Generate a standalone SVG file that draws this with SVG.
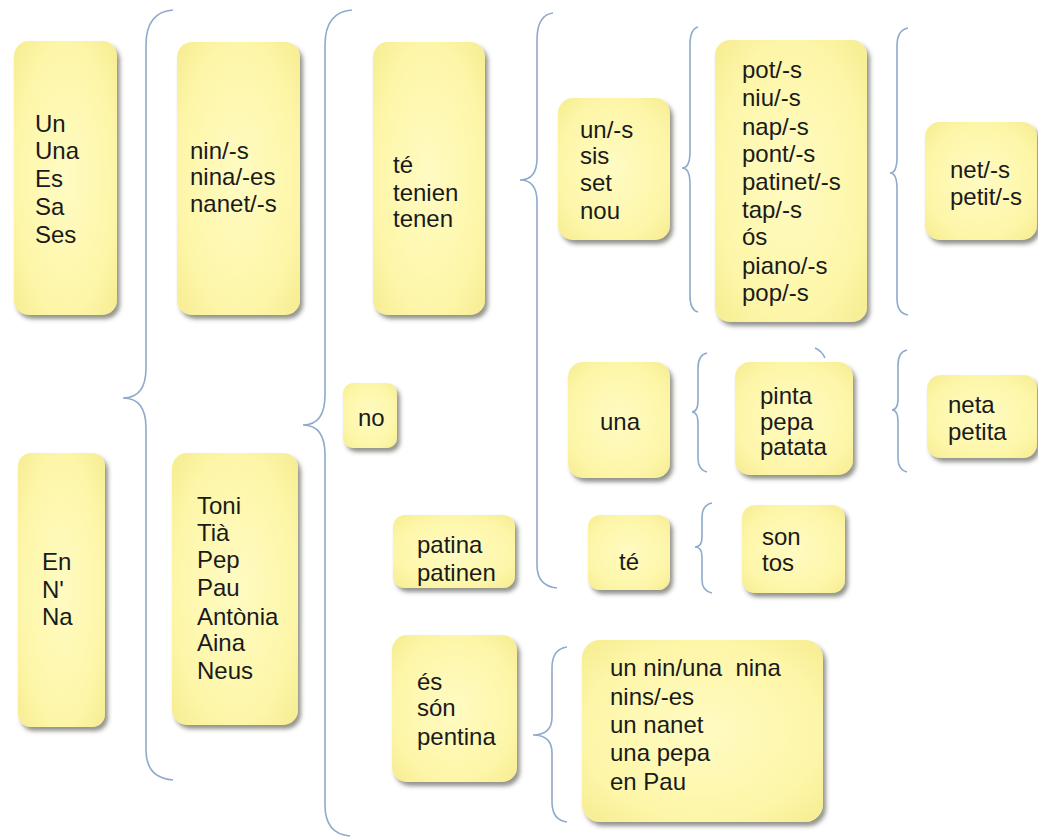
<svg xmlns="http://www.w3.org/2000/svg" width="1038" height="840" viewBox="0 0 1038 840">
<defs>
<radialGradient id="g" cx="50%" cy="50%" r="65%">
<stop offset="0" stop-color="#FFFBC2"/>
<stop offset="0.75" stop-color="#FDF6A8"/>
<stop offset="1" stop-color="#F8EE96"/>
</radialGradient>
<filter id="sh" x="-20%" y="-20%" width="140%" height="140%">
<feDropShadow dx="3" dy="4" stdDeviation="2.2" flood-color="#3a3a30" flood-opacity="0.55"/>
</filter>
</defs>
<style>
.box{fill:url(#g);filter:url(#sh);}
text{font-family:"Liberation Sans",Arial,sans-serif;font-size:24px;fill:#1a1a1a;}
.br{fill:none;stroke:#8FAACB;stroke-width:1.6;}
</style>
<rect width="1038" height="840" fill="#ffffff"/>
<g id="connectors">
<path class="br" d="M173,10 Q146,12 146,45 L146,368 Q146,398 123,398 Q146,398 146,428 L146,750 Q146,778 173,780"/>
<path class="br" d="M352,10 Q325,12 325,45 L325,395 Q325,425 303,425 Q325,425 325,455 L325,805 Q325,834 350,836"/>
<path class="br" d="M553,13 Q537,15 537,40 L537,158 Q537,180 520,180 Q537,180 537,202 L537,565 Q537,586 557,588"/>
<path class="br" d="M698,27 Q690,29 690,45 L690,152 Q690,168 682,168 Q690,168 690,184 L690,296 Q690,310 698,312"/>
<path class="br" d="M908,28 Q897,30 897,46 L897,157 Q897,173 890,173 Q897,173 897,189 L897,299 Q897,313 908,315"/>
<path class="br" d="M707,353 Q698,355 698,368 L698,400 Q698,412 692,412 Q698,412 698,424 L698,458 Q698,470 707,472"/>
<path class="br" d="M907,350 Q898,352 898,365 L898,398 Q898,410 892,410 Q898,410 898,422 L898,458 Q898,470 907,472"/>
<path class="br" d="M712,503 Q702,505 702,517 L702,537 Q702,547 695,547 Q702,547 702,557 L702,580 Q702,591 712,593"/>
<path class="br" d="M567,647 Q552,649 552,668 L552,717 Q552,735 533,735 Q552,735 552,753 L552,802 Q552,820 567,822"/>
<path class="br" d="M815,348 Q822,351 825,358"/>
</g>
<g id="n-un">
<rect class="box" x="14" y="41" width="103" height="274" rx="15"/>
<text x="35" y="132">Un</text><text x="35" y="159">Una</text><text x="35" y="187">Es</text><text x="35" y="215">Sa</text><text x="35" y="243">Ses</text>
</g>
<g id="n-nin">
<rect class="box" x="177" y="42" width="123" height="273" rx="15"/>
<text x="190" y="159">nin/-s</text><text x="190" y="185">nina/-es</text><text x="190" y="212">nanet/-s</text>
</g>
<g id="n-en">
<rect class="box" x="18" y="453" width="87" height="274" rx="13"/>
<text x="42" y="570">En</text><text x="42" y="598">N'</text><text x="42" y="625">Na</text>
</g>
<g id="n-toni">
<rect class="box" x="172" y="453" width="126" height="272" rx="15"/>
<text x="197" y="514">Toni</text><text x="197" y="541">Tià</text><text x="197" y="568">Pep</text><text x="197" y="596">Pau</text><text x="197" y="625">Antònia</text><text x="197" y="651">Aina</text><text x="197" y="679">Neus</text>
</g>
<g id="n-te">
<rect class="box" x="373" y="42" width="112" height="273" rx="15"/>
<text x="393" y="173">té</text><text x="393" y="201">tenien</text><text x="393" y="227">tenen</text>
</g>
<g id="n-no">
<rect class="box" x="343" y="383" width="54" height="65" rx="10"/>
<text x="358" y="426">no</text>
</g>
<g id="n-un2">
<rect class="box" x="558" y="98" width="112" height="142" rx="15"/>
<text x="580" y="138">un/-s</text><text x="580" y="164">sis</text><text x="580" y="191">set</text><text x="580" y="219">nou</text>
</g>
<g id="n-pot">
<rect class="box" x="715" y="40" width="152" height="282" rx="15"/>
<text x="742" y="78">pot/-s</text><text x="742" y="106">niu/-s</text><text x="742" y="135">nap/-s</text><text x="742" y="162">pont/-s</text><text x="742" y="190">patinet/-s</text><text x="742" y="218">tap/-s</text><text x="742" y="245">ós</text><text x="742" y="274">piano/-s</text><text x="742" y="301">pop/-s</text>
</g>
<g id="n-net">
<rect class="box" x="925" y="122" width="112" height="118" rx="15"/>
<text x="950" y="178">net/-s</text><text x="950" y="205">petit/-s</text>
</g>
<g id="n-una">
<rect class="box" x="568" y="362" width="102" height="116" rx="15"/>
<text x="620" y="430" text-anchor="middle">una</text>
</g>
<g id="n-pinta">
<rect class="box" x="735" y="362" width="118" height="113" rx="15"/>
<text x="760" y="404">pinta</text><text x="760" y="430">pepa</text><text x="760" y="455">patata</text>
</g>
<g id="n-neta">
<rect class="box" x="927" y="375" width="110" height="83" rx="14"/>
<text x="948" y="413">neta</text><text x="948" y="440">petita</text>
</g>
<g id="n-patina">
<rect class="box" x="393" y="515" width="122" height="73" rx="12"/>
<text x="417" y="553">patina</text><text x="417" y="581">patinen</text>
</g>
<g id="n-te2">
<rect class="box" x="588" y="515" width="82" height="75" rx="12"/>
<text x="629" y="570" text-anchor="middle">té</text>
</g>
<g id="n-son">
<rect class="box" x="742" y="505" width="103" height="88" rx="13"/>
<text x="762" y="545">son</text><text x="762" y="571">tos</text>
</g>
<g id="n-es">
<rect class="box" x="392" y="635" width="125" height="147" rx="15"/>
<text x="417" y="690">és</text><text x="417" y="716">són</text><text x="417" y="745">pentina</text>
</g>
<g id="n-unnin">
<rect class="box" x="582" y="640" width="241" height="182" rx="18"/>
<text x="610" y="676" xml:space="preserve">un nin/una  nina</text><text x="610" y="705">nins/-es</text><text x="610" y="733">un nanet</text><text x="610" y="761">una pepa</text><text x="610" y="790">en Pau</text>
</g>
</svg>
